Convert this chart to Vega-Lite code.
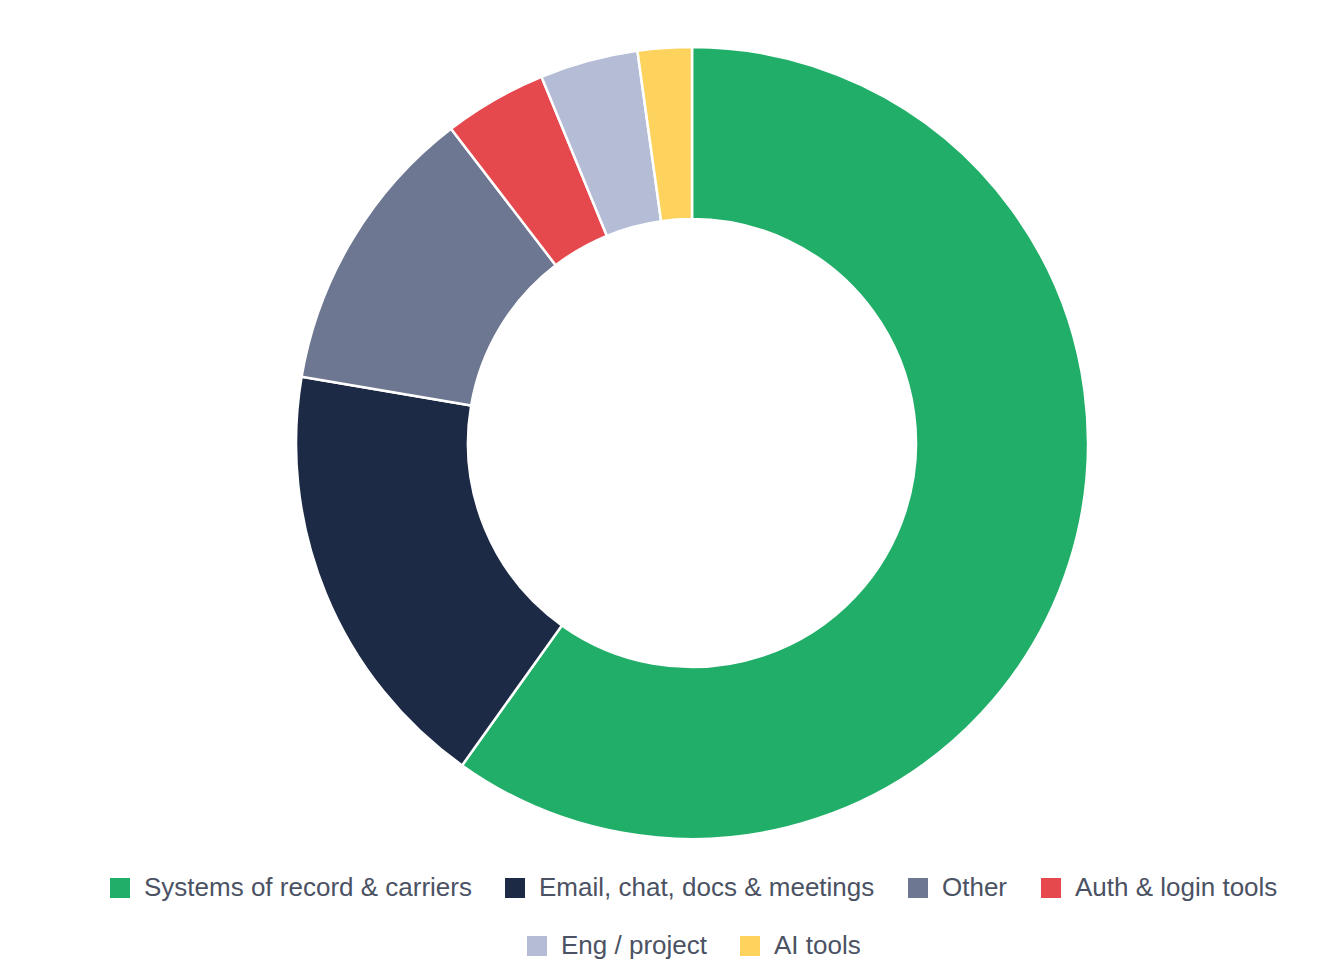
{
  "$schema": "https://vega.github.io/schema/vega-lite/v6.json",
  "width": 1256,
  "height": 792,
  "padding": {"left": 64, "top": 42, "right": 0, "bottom": 4},
  "background": "white",
  "data": {
    "values": [
      {"category": "Systems of record & carriers", "share": 59.8, "order": 1},
      {"category": "Email, chat, docs & meetings", "share": 17.8, "order": 2},
      {"category": "Other", "share": 11.9, "order": 3},
      {"category": "Auth & login tools", "share": 4.2, "order": 4},
      {"category": "Eng / project", "share": 4.0, "order": 5},
      {"category": "AI tools", "share": 2.2, "order": 6}
    ]
  },
  "layer": [
    {
      "mark": {"type": "arc", "outerRadius": 396, "innerRadius": 224, "stroke": "white", "strokeWidth": 2.5},
      "encoding": {
        "theta": {"field": "share", "type": "quantitative", "stack": true},
        "order": {"field": "order", "type": "quantitative"},
        "color": {
          "field": "category", "type": "nominal",
          "scale": {
            "domain": ["Systems of record & carriers", "Email, chat, docs & meetings", "Other", "Auth & login tools", "Eng / project", "AI tools"],
            "range": ["#20ae68", "#1d2a45", "#6e7791", "#e5484d", "#b4bcd6", "#fdd35e"]
          },
          "legend": {"values": ["Systems of record & carriers", "Email, chat, docs & meetings", "Other", "Auth & login tools"]}
        }
      }
    },
    {
      "mark": {"type": "arc", "outerRadius": 396, "innerRadius": 224, "stroke": "white", "strokeWidth": 2.5},
      "encoding": {
        "theta": {"field": "share", "type": "quantitative", "stack": true},
        "order": {"field": "order", "type": "quantitative"},
        "color": {
          "field": "category", "type": "nominal",
          "scale": {
            "domain": ["Systems of record & carriers", "Email, chat, docs & meetings", "Other", "Auth & login tools", "Eng / project", "AI tools"],
            "range": ["#20ae68", "#1d2a45", "#6e7791", "#e5484d", "#b4bcd6", "#fdd35e"]
          },
          "legend": {"values": ["Eng / project", "AI tools"]}
        }
      }
    }
  ],
  "resolve": {"scale": {"color": "independent"}, "legend": {"color": "independent"}},
  "config": {
    "view": {"stroke": null},
    "legend": {
      "orient": "bottom",
      "direction": "horizontal",
      "title": null,
      "offset": 36,
      "symbolType": "square",
      "symbolSize": 400,
      "symbolStrokeWidth": 0,
      "symbolOpacity": 1,
      "labelFont": "Liberation Sans",
      "labelFontSize": 26,
      "labelColor": "#4b5263",
      "labelOffset": 11,
      "labelLimit": 0,
      "columnPadding": 30,
      "layout": {
        "bottom": {"anchor": "middle", "direction": "vertical", "center": true, "margin": 32}
      }
    }
  }
}
